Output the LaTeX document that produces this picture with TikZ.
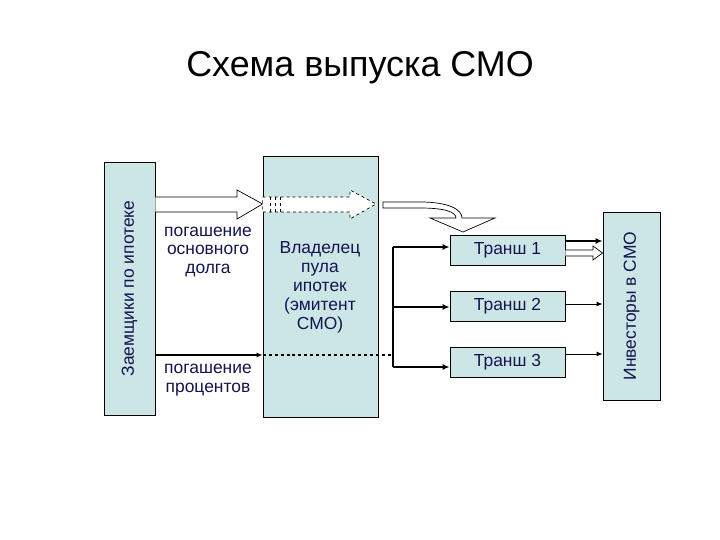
\documentclass[tikz,border=0pt]{standalone}
\usepackage{fontspec}
\setmainfont{Liberation Sans}
\usetikzlibrary{arrows.meta}
\definecolor{boxfill}{RGB}{204,230,230}
\definecolor{txt}{RGB}{20,20,80}
\begin{document}
\begin{tikzpicture}[x=1bp,y=-1bp,
  box/.style={draw=black,fill=boxfill,line width=0.8pt,inner sep=0},
  lbl/.style={text=txt,font=\fontsize{17.5}{19}\selectfont,align=center},
  conn/.style={line width=1.6pt,-{Latex[length=7pt,width=6pt]}},
  hollow/.style={draw=black,fill=white,line width=0.7pt}]
\useasboundingbox (0,0) rectangle (720,540);
\node[font=\fontsize{36}{40}\selectfont] (title) at (360,68) {Схема выпуска СМО};
\node[box,minimum width=51bp,minimum height=253bp] (left) at (129.5,288.5) {};
\node[lbl,rotate=90] (lt) at (left) {Заемщики по ипотеке};
\node[box,minimum width=115bp,minimum height=261bp] (mid) at (320.5,286.5) {};
\node[lbl] (owner) at (320,287) {Владелец\\пула\\ипотек\\(эмитент\\СМО)};
\node[box,minimum width=57bp,minimum height=188bp] (inv) at (631.5,306) {};
\node[lbl,rotate=90] (it) at (inv) {Инвесторы в СМО};
\node[box,minimum width=115bp,minimum height=30bp] (t1) at (507.5,250) {};
\node[lbl] at (t1) {Транш 1};
\node[box,minimum width=115bp,minimum height=30bp] (t2) at (507.5,306.5) {};
\node[lbl] at (t2) {Транш 2};
\node[box,minimum width=115bp,minimum height=30bp] (t3) at (507.5,362) {};
\node[lbl] at (t3) {Транш 3};
\node[lbl] (p1) at (208,252) {погашение\\основного\\долга};
\node[lbl] (p2) at (208,380) {погашение\\процентов};
% hollow arrow into mid
\draw[hollow] (left.east |- 0,197) -- (237,197) -- (237,190) -- (mid.west |- 0,204) -- (237,219) -- (237,212) -- (left.east |- 0,212) ;
\draw[hollow,dashed] (mid.west |- 0,197) -- (350,197) -- (350,190) -- (376,204) -- (350,219) -- (350,212) -- (mid.west |- 0,212) -- cycle;
\draw[dashed,line width=0.6pt] (270,197)--(270,212) (275,197)--(275,212) (280,197)--(280,212);
% curved hollow arrow
\draw[hollow] (383,202) -- (420,202) .. controls (450,202) and (462,210) .. (462,218) -- (495,218) -- (463,232) -- (430,218) -- (456,218) .. controls (456,212) and (445,208) .. (420,208) -- (383,208) -- cycle;
% interest line
\coordinate (j) at (393,355);
\draw[line width=1.6pt,-{Latex[length=6pt,width=5pt]}] (left.east |- j) -- (mid.west |- j);
\draw[line width=1.4pt,dashed] (mid.west |- j) -- (j);
\draw[line width=1.6pt] (393,247) -- (393,367);
\draw[conn] (393,247) -- (t1.west |- 0,247);
\draw[conn] (393,307) -- (t2.west |- 0,307);
\draw[conn] (393,367) -- (t3.west |- 0,367);
\draw[conn] (t1.east |- 0,241) -- (inv.west |- 0,241);
\draw[hollow] (t1.east |- 0,250) -- (593,250) -- (593,246) -- (inv.west |- 0,253) -- (593,260) -- (593,256) -- (t1.east |- 0,256) ;
\draw[line width=1pt,-{Latex[length=6pt,width=5pt]}] (t2.east |- 0,304) -- (inv.west |- 0,304);
\draw[line width=1pt,-{Latex[length=6pt,width=5pt]}] (t3.east |- 0,354) -- (inv.west |- 0,354);
\end{tikzpicture}
\end{document}
